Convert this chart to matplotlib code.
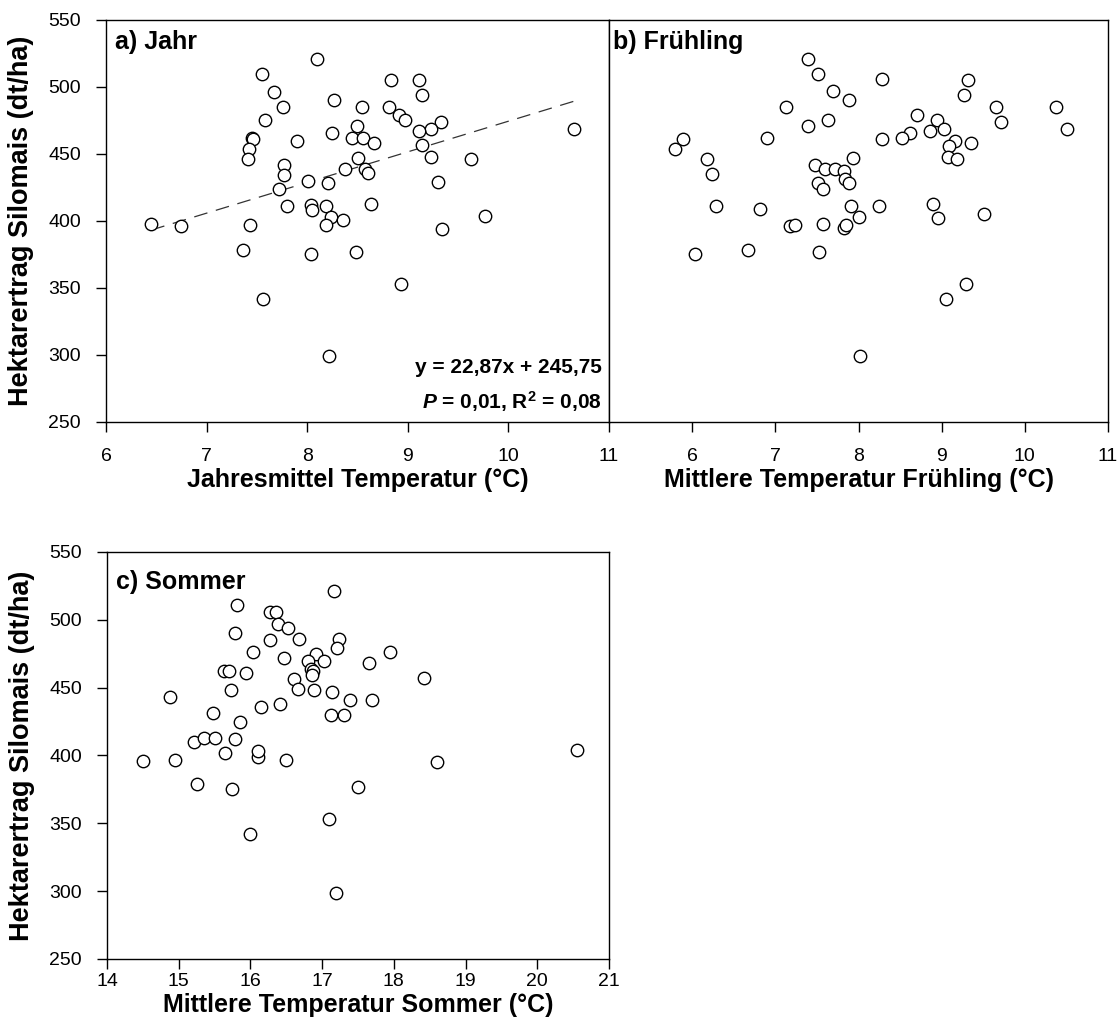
import numpy as np
import matplotlib.pyplot as plt

plt.rcParams['font.family'] = ['Liberation Sans', 'DejaVu Sans']
plt.rcParams['mathtext.fontset'] = 'custom'
plt.rcParams['mathtext.rm'] = 'Liberation Sans:bold'
plt.rcParams['mathtext.it'] = 'Liberation Sans:italic:bold'
plt.rcParams['mathtext.bf'] = 'Liberation Sans:bold'

# a) Jahresmittel Temperatur vs. Ertrag
jahr_x = [6.45, 6.75, 7.55, 7.67, 7.76, 7.58, 7.45, 7.46, 7.42, 7.41,
          8.10, 8.27, 8.25, 7.90, 7.77, 7.77, 7.72, 8.01, 8.21, 8.38,
          7.80, 8.04, 8.05, 8.19, 8.24, 8.36, 8.19, 7.43, 7.36, 7.56,
          8.04, 8.22, 8.83, 9.11, 9.14, 8.55, 8.81, 8.91, 8.97, 9.33,
          9.23, 9.11, 8.50, 8.45, 8.56, 8.66, 8.51, 8.58, 8.60, 9.14,
          9.23, 9.63, 9.30, 8.63, 9.77, 10.65, 9.34, 8.49, 8.93]
jahr_y = [398, 396, 510, 496, 485, 475, 462, 461, 454, 446,
          521, 490, 466, 460, 442, 434, 424, 430, 428, 439,
          411, 412, 408, 411, 403, 401, 397, 397, 378, 342,
          375, 299, 505, 505, 494, 485, 485, 479, 475, 474,
          469, 467, 471, 462, 462, 458, 447, 439, 436, 457,
          448, 446, 429, 413, 404, 469, 394, 377, 353]

# b) Frühling
fr_x = [7.39, 7.51, 7.69, 7.89, 7.13, 7.63, 7.39, 6.90, 5.89, 5.79,
        6.18, 6.24, 7.93, 7.48, 7.60, 7.72, 7.82, 7.84, 7.88, 7.51,
        7.57, 6.28, 6.81, 7.91, 8.00, 6.03, 6.67, 7.53, 7.18, 7.24,
        7.57, 7.82, 7.85, 8.02, 8.95, 9.51, 9.29, 9.05, 8.28, 9.32,
        9.27, 9.65, 10.38, 9.71, 10.51, 8.70, 8.94, 9.03, 8.86, 8.62,
        8.52, 8.28, 9.16, 9.09, 9.35, 9.07, 9.19, 8.25, 8.90]
fr_y = [521, 510, 497, 490, 485, 475, 471, 462, 461, 454,
        446, 435, 447, 442, 439, 439, 437, 431, 428, 428,
        424, 411, 409, 411, 403, 375, 378, 377, 396, 397,
        398, 395, 397, 299, 402, 405, 353, 342, 506, 505,
        494, 485, 485, 474, 469, 479, 475, 469, 467, 466,
        462, 461, 460, 456, 458, 448, 446, 411, 413]

# c) Sommer
so_x = [17.17, 15.82, 16.27, 16.36, 16.38, 16.52, 15.79, 16.28, 16.68, 17.23,
        17.21, 16.03, 16.47, 16.92, 16.81, 17.03, 16.84, 16.88, 16.86, 15.63,
        15.70, 15.94, 15.73, 16.61, 16.66, 16.89, 17.14, 17.39, 14.88, 15.48,
        16.15, 16.41, 17.12, 17.30, 15.85, 15.22, 15.35, 15.50, 15.79, 17.94,
        17.66, 18.42, 17.70, 14.50, 14.95, 15.25, 15.65, 15.75, 16.00, 16.10,
        16.10, 16.50, 17.10, 17.20, 17.50, 18.60, 20.55]
so_y = [521, 511, 506, 506, 497, 494, 490, 485, 486, 486,
        479, 476, 472, 475, 470, 470, 464, 462, 459, 462,
        462, 461, 448, 456, 449, 448, 447, 441, 443, 431,
        436, 438, 430, 430, 425, 410, 413, 413, 412, 476,
        468, 457, 441, 396, 397, 379, 402, 375, 342, 399,
        403, 397, 353, 299, 377, 395, 404]

# Regression (Jahr)
slope, intercept = 22.87, 245.75
fit_x = [6.45, 10.65]

yticks = [250, 300, 350, 400, 450, 500, 550]
ylabel = 'Hektarertrag Silomais (dt/ha)'


def style(ax, xlim, xticks, xlabel, xpad, show_y=True):
    ax.set_xlim(*xlim)
    ax.set_ylim(250, 550)
    ax.set_xticks(xticks)
    ax.set_yticks(yticks)
    ax.tick_params(direction='out', length=7, width=1, labelsize=14,
                   top=False, right=False)
    ax.tick_params(axis='y', pad=11)
    ax.tick_params(axis='x', pad=xpad)
    for s in ax.spines.values():
        s.set_linewidth(1.0)
    ax.set_xlabel(xlabel, fontsize=18, fontweight='bold', labelpad=2)
    if show_y:
        ax.set_ylabel(ylabel, fontsize=19.5, fontweight='bold')
        ax.yaxis.set_label_coords(-0.143, 0.5)
    else:
        ax.tick_params(axis='y', left=False, labelleft=False)


def circles(ax, x, y):
    ax.scatter(x, y, s=80, facecolors='white', edgecolors='black',
               linewidths=1.0, zorder=3)


fig = plt.figure(figsize=(11.2, 10.25), dpi=100)

ax1 = fig.add_axes([0.0946, 0.5883, 0.4491, 0.3922])
ax2 = fig.add_axes([0.5438, 0.5883, 0.4455, 0.3922])
ax3 = fig.add_axes([0.0955, 0.0644, 0.4482, 0.3971])

# a)
fx = np.array(fit_x)
ax1.plot(fx, slope * fx + intercept, color='#333333', lw=0.9,
         dashes=(11, 7), zorder=2)
circles(ax1, jahr_x, jahr_y)
style(ax1, (6, 11), [6, 7, 8, 9, 10, 11],
      'Jahresmittel Temperatur (°C)', xpad=12)
ax1.text(0.018, 0.975, 'a) Jahr', transform=ax1.transAxes, fontsize=18,
         fontweight='bold', va='top')
ax1.text(10.93, 291, 'y = 22,87x + 245,75', fontsize=15,
         fontweight='bold', ha='right', va='center')
ax1.text(10.93, 265, r'$\it{P}$ = 0,01, R$^{2}$ = 0,08', fontsize=15,
         fontweight='bold', ha='right', va='center')

# b)
circles(ax2, fr_x, fr_y)
style(ax2, (5, 11), [6, 7, 8, 9, 10, 11],
      'Mittlere Temperatur Frühling (°C)', xpad=12, show_y=False)
ax2.text(0.008, 0.975, 'b) Frühling', transform=ax2.transAxes, fontsize=18,
         fontweight='bold', va='top')

# c)
circles(ax3, so_x, so_y)
style(ax3, (14, 21), [14, 15, 16, 17, 18, 19, 20, 21],
      'Mittlere Temperatur Sommer (°C)', xpad=3)
ax3.text(0.018, 0.955, 'c) Sommer', transform=ax3.transAxes, fontsize=18,
         fontweight='bold', va='top')

fig.savefig('out.png', dpi=100)
